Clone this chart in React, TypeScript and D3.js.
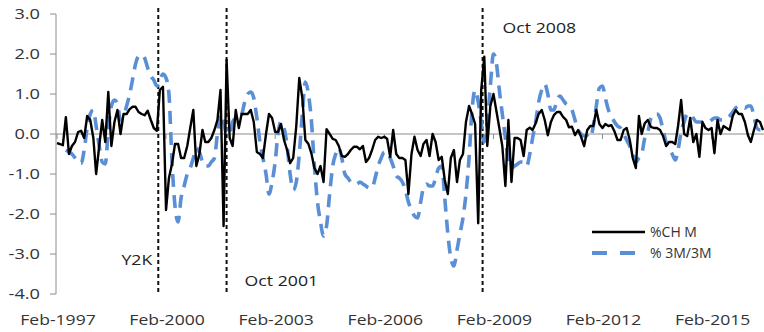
import React from 'react';
import * as d3 from 'd3';

// monthly series, first month = Feb 1997
const START = new Date(1997, 1, 1);

const pctChangeM: number[] = [
  -0.23, -0.25, -0.28, 0.42, -0.5, -0.3, -0.2, 0.05, 0.08, -0.1,
  0.45, 0.35, -0.1, -1.0, -0.3, 0.35, -0.2, 1.05, -0.3, 0.3,
  0.6, 0.0, 0.5, 0.5, 0.62, 0.68, 0.68, 0.55, 0.5, 0.47,
  0.58, 0.35, 0.15, 0.08, 1.1, 1.18, -1.9, -1.1, -0.75, -0.25,
  -0.25, -0.6, -0.6, -0.3, 0.15, 0.6, -0.8, -0.5, 0.1, -0.2,
  -0.2, -0.1, 0.1, 0.35, 1.1, -2.3, 1.85, -0.1, -0.3, 0.6,
  0.15, 0.5, 0.5, 0.5, 0.6, 0.3, -0.45, -0.5, -0.6, 0.0,
  0.5, 0.4, 0.05, 0.05, 0.25, -0.15, -0.4, -0.73, -0.6, 0.2,
  1.4, 0.9, -0.15, -0.25, -0.5, -0.85, -1.0, -0.8, -1.2, 0.12,
  0.0, -0.12, -0.15, -0.3, -0.55, -0.57, -0.5, -0.4, -0.32, -0.32,
  -0.38, -0.3, -0.7, -0.6, -0.4, -0.15, -0.07, -0.1, -0.07, -0.12,
  -0.57, 0.1, -0.5, -0.6, -0.6, -0.65, -1.5, -0.5, -0.07, -0.4,
  -0.55, -0.25, -0.15, -0.55, 0.0, -0.2, -0.65, -0.57, -1.15, -1.5,
  -0.6, -0.4, -1.2, -0.65, -0.5, 0.3, 0.7, 0.5, 0.25, -2.23,
  1.1, 1.93, -0.3, 0.7, 1.0, 0.6, 0.15, -0.3, -1.3, 0.35,
  -1.2, -0.1, -0.1, -0.15, -0.55, 0.1, 0.16, 0.1, 0.27, 0.5,
  0.6, 0.35, -0.03, 0.3, 0.47, 0.55, 0.55, 0.43, 0.35, 0.17,
  0.18, -0.03, 0.1, -0.07, -0.3, 0.1, 0.2, 0.2, 0.6, 0.25,
  0.15, 0.25, 0.2, 0.22, 0.06, -0.15, -0.15, 0.1, 0.15, -0.15,
  -0.6, -0.85, 0.45, 0.0, 0.27, 0.35, 0.18, 0.15, 0.15, 0.1,
  -0.05, -0.3, -0.2, -0.2, -0.25, 0.2, 0.85, 0.0, -0.05, 0.4,
  -0.2, 0.0, -0.57, 0.3, 0.15, 0.1, 0.15, -0.48, 0.35, 0.0,
  0.2, 0.15, 0.1, 0.45, 0.6, 0.5, 0.5, 0.3, -0.03, -0.2,
  0.1, 0.35, 0.3, 0.1,
];

const pct3M3M: (number | null)[] = [
  null, null, null, -0.4, -0.45, -0.5, -0.6, -0.72, -0.73, -0.4,
  0.15, 0.5, 0.6, 0.2, -0.3, -0.7, -0.75, 0.1, 0.7, 0.85,
  0.75, 0.35, 0.45, 0.7, 1.0, 1.35, 1.75, 1.95, 1.98, 1.9,
  1.65, 1.45, 1.35, 1.2, 1.35, 1.5, 1.4, 1.0, -0.7, -1.8,
  -2.2, -1.6, -1.3, -1.0, -0.85, -0.6, -0.35, -0.45, -0.7, -0.8,
  -0.8, -0.7, -0.6, 0.0, 0.5, 0.3, 0.0, 0.0, 0.3, 0.4,
  0.45, 0.5, 0.8, 1.0, 1.05, 0.9, 0.4, -0.2, -0.6, -1.0,
  -1.5, -1.2, -0.7, 0.0, 0.3, 0.15, -0.3, -1.0, -1.4, -1.2,
  -0.5, 0.5, 1.3, 1.0, 0.3, -0.8, -1.7, -2.2, -2.55, -2.3,
  -1.5, -0.8, -0.5, -0.35, -0.6, -1.0, -1.1, -1.2, -1.25, -1.25,
  -1.2, -1.25, -1.3, -1.35, -1.35, -1.1, -0.8, -0.6, -0.45, -0.45,
  -0.6, -0.8, -1.05, -1.1, -1.2, -1.4, -1.7, -1.9, -2.05, -2.1,
  -1.7, -1.35, -1.25, -1.3, -1.3, -1.1, -0.85, -0.8, -1.6, -2.5,
  -3.1, -3.3, -2.9, -2.5, -2.1, -1.5, -0.6, 0.6, 1.1, 0.8,
  0.3, -0.2, 0.3, 1.2, 2.0, 1.8, 1.1, 0.5, -0.1, -0.7,
  -0.85, -0.8, -0.75, -0.7, -0.7, -0.8, -0.5, -0.1, 0.3, 0.8,
  1.1, 1.25, 1.0, 0.6, 0.6, 0.85, 0.95, 0.85, 0.75, 0.7,
  0.6, 0.35, 0.1, 0.0, -0.05, -0.05, -0.1, 0.2, 0.7, 1.15,
  1.2, 0.9, 0.6, 0.45, 0.3, 0.2, 0.15, 0.0, -0.15, -0.3,
  -0.5, -0.7, -0.6, -0.5, -0.1, 0.05, 0.4, 0.5, 0.5, 0.4,
  0.1, -0.2, -0.35, -0.5, -0.65, -0.4, 0.05, 0.3, 0.5, 0.5,
  0.4, 0.3, 0.3, 0.3, 0.3, 0.3, 0.35, 0.4, 0.4, 0.35,
  0.35, 0.4, 0.45, 0.55, 0.65, 0.7, 0.7, 0.65, 0.7, 0.7,
  0.45, 0.15, 0.1, 0.1,
];

const xTickYears = [1997, 2000, 2003, 2006, 2009, 2012, 2015];
const yTicks = [3, 2, 1, 0, -1, -2, -3, -4];

const events = [
  { label: 'Y2K', date: new Date(1999, 10, 15), dx: -6, ly: 265, anchor: 'end' },
  { label: 'Oct 2001', date: new Date(2001, 9, 1), dx: 18, ly: 286, anchor: 'start' },
  { label: 'Oct 2008', date: new Date(2008, 9, 15), dx: 20, ly: 33, anchor: 'start' },
];

const BLUE = '#5a8fd6';
const FONT = '"Open Sans", Arial, sans-serif';

function Wide({ x, y, sx = 1.2, size = 15, anchor = 'start', fill = '#333', children }: any) {
  return (
    <text
      transform={`translate(${x},${y}) scale(${sx},1)`}
      textAnchor={anchor}
      fontSize={size}
      fontFamily={FONT}
      fill={fill}
    >
      {children}
    </text>
  );
}

export default function App() {
  const W = 764;
  const H = 332;
  const dateAt = (i: number) => d3.timeMonth.offset(START, i);

  const x = d3.scaleTime()
    .domain([START, dateAt(pctChangeM.length - 1)])
    .range([57, 763]);
  const y = d3.scaleLinear().domain([-4, 3]).range([294, 14]);

  const lineM = d3.line<number>()
    .x((_, i) => x(dateAt(i)))
    .y(d => y(d));

  const line3M = d3.line<number | null>()
    .defined(d => d != null)
    .x((_, i) => x(dateAt(i)))
    .y(d => y(d as number))
    .curve(d3.curveMonotoneX);

  const axisX = 56;

  return (
    <svg width={W} height={H} style={{ position: 'absolute', left: 0, top: 0, background: '#fff' }}>
      {/* y axis */}
      <line x1={axisX} x2={axisX} y1={y(3)} y2={y(-4)} stroke="#8c8c8c" strokeWidth={1} />
      {yTicks.map(t => (
        <g key={t}>
          <line x1={axisX - 6} x2={axisX} y1={y(t)} y2={y(t)} stroke="#8c8c8c" />
          <Wide x={40} y={y(t) + 5} sx={1.3} size={14} anchor="end">{t.toFixed(1)}</Wide>
        </g>
      ))}

      {/* zero line + category ticks */}
      <line x1={axisX} x2={W} y1={y(0)} y2={y(0)} stroke="#8c8c8c" strokeWidth={1} />
      {xTickYears.map(yr => {
        const px = x(new Date(yr, 1, 1));
        return (
          <g key={yr}>
            <line x1={px} x2={px} y1={y(0)} y2={y(0) + 5} stroke="#8c8c8c" />
            <Wide x={px + 1} y={325} sx={1.17} size={15} anchor="middle">{`Feb-${yr}`}</Wide>
          </g>
        );
      })}

      {/* event markers */}
      {events.map(e => {
        const px = x(e.date);
        return (
          <g key={e.label}>
            <line x1={px} x2={px} y1={8} y2={294} stroke="#111" strokeWidth={2} strokeDasharray="4,3" />
            <Wide x={px + e.dx} y={e.ly} sx={1.18} size={15} anchor={e.anchor} fill="#222">{e.label}</Wide>
          </g>
        );
      })}

      {/* series */}
      <path
        d={line3M(pct3M3M) || ''}
        fill="none"
        stroke={BLUE}
        strokeWidth={3.6}
        strokeDasharray="13,8"
      />
      <path
        d={lineM(pctChangeM) || ''}
        fill="none"
        stroke="#000"
        strokeWidth={2.4}
        strokeLinejoin="round"
      />

      {/* legend */}
      <line x1={592} x2={645} y1={232} y2={232} stroke="#000" strokeWidth={2.5} />
      <text x={650} y={237} fontSize={14} fontFamily={FONT} fill="#333">%CH M</text>
      <line x1={592} x2={635} y1={253} y2={253} stroke={BLUE} strokeWidth={4} strokeDasharray="15,13" />
      <text x={650} y={258} fontSize={14} fontFamily={FONT} fill="#333">% 3M/3M</text>
    </svg>
  );
}
